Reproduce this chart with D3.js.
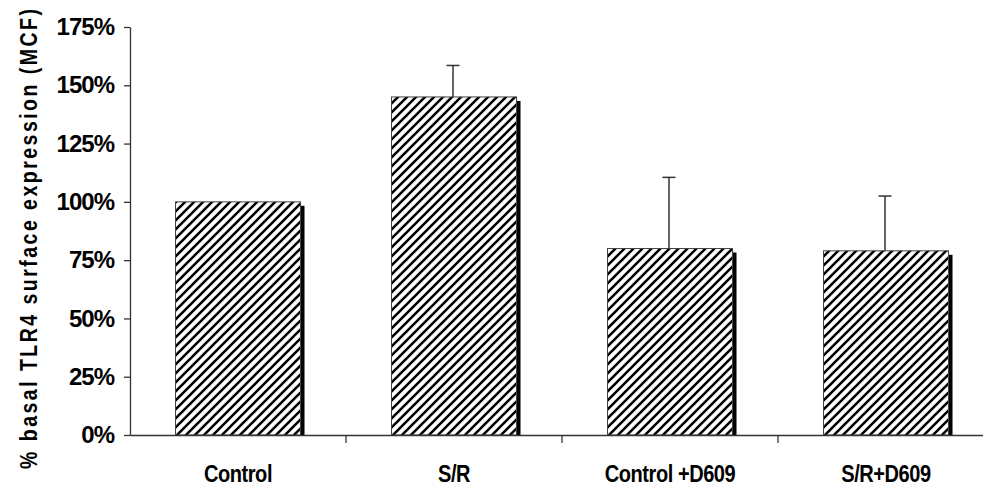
<!DOCTYPE html>
<html><head><meta charset="utf-8">
<script src="https://cdn.jsdelivr.net/npm/d3@7"></script>
<style>body{margin:0;background:#fff}svg{display:block}</style>
</head><body>
<svg id="c" width="983" height="493"></svg>
<script>
const categories = ["Control", "S/R", "Control +D609", "S/R+D609"];
const values = [100, 145, 80, 79];
const errors = [0, 13.5, 30.5, 23.5];
const yTicks = [0, 25, 50, 75, 100, 125, 150, 175];
const yTitle = "% basal TLR4 surface expression (MCF)";

const svg = d3.select("#c");
const m = {left:130, top:27, bottom:435, right:994};
const x = d3.scaleBand().domain(categories).range([m.left, m.right]).paddingInner(0).paddingOuter(0);
const y = d3.scaleLinear().domain([0,175]).range([m.bottom, m.top]);

const defs = svg.append("defs");
const pat = defs.append("pattern").attr("id","hatch").attr("patternUnits","userSpaceOnUse")
  .attr("width",9).attr("height",9);
pat.append("rect").attr("width",9).attr("height",9).attr("fill","#fff");
pat.append("path").attr("d","M-1,10 L10,-1 M-4,4 L4,-4 M5,13 L13,5").attr("stroke","#000").attr("stroke-width",2.6);

const bw = 125;
const bx = d => x(d) + (x.bandwidth()-bw)/2;

// shadows
svg.append("g").selectAll("rect").data(categories).join("rect")
  .attr("x", d => bx(d) + 4).attr("y", (d,i) => y(values[i]) + 4)
  .attr("width", bw).attr("height", (d,i) => m.bottom - y(values[i]) - 4)
  .attr("fill", "#000");
// bars
svg.append("g").selectAll("rect").data(categories).join("rect")
  .attr("x", d => bx(d)).attr("y", (d,i) => y(values[i]))
  .attr("width", bw).attr("height", (d,i) => m.bottom - y(values[i]))
  .attr("fill", "url(#hatch)").attr("stroke", "#444").attr("stroke-width", 1);

// error bars
const eg = svg.append("g").attr("stroke","#333").attr("stroke-width",1.5);
categories.forEach((c,i) => {
  if (!errors[i]) return;
  const cx = x(c) + x.bandwidth()/2 - 1;
  eg.append("line").attr("x1",cx).attr("x2",cx).attr("y1",y(values[i])).attr("y2",y(values[i]+errors[i]));
  eg.append("line").attr("x1",cx-6.5).attr("x2",cx+6.5).attr("y1",y(values[i]+errors[i])).attr("y2",y(values[i]+errors[i]));
});

// y axis
const ya = svg.append("g").attr("transform",`translate(${m.left},0)`)
  .call(d3.axisLeft(y).tickValues(yTicks).tickSize(6).tickSizeOuter(0).tickFormat(d => d + "%"));
ya.select(".domain").attr("stroke","#333").attr("stroke-width",1.3);
ya.selectAll(".tick line").attr("stroke","#333").attr("stroke-width",1.3);
ya.selectAll(".tick text").attr("x",-16).attr("font-family","Liberation Sans, Arial, sans-serif")
  .attr("font-weight","bold").attr("font-size",24).attr("letter-spacing",-1).attr("fill","#000");

// x axis
const xa = svg.append("g").attr("transform",`translate(0,${m.bottom})`)
  .call(d3.axisBottom(x).tickSize(0).tickSizeOuter(0));
xa.select(".domain").attr("stroke","#333").attr("stroke-width",1.3);
xa.selectAll(".tick text").remove();
// category separators
xa.selectAll(".sep").data(categories.slice(1)).join("line").attr("class","sep")
  .attr("x1", d => x(d)).attr("x2", d => x(d)).attr("y1",0).attr("y2",8).attr("stroke","#333").attr("stroke-width",1.3);
xa.selectAll(".lab").data(categories).join("text").attr("class","lab")
  .attr("transform", d => `translate(${x(d)+x.bandwidth()/2},47) scale(0.87,1)`)
  .attr("text-anchor","middle").attr("font-family","Liberation Sans, Arial, sans-serif")
  .attr("font-weight","bold").attr("font-size",23).attr("letter-spacing",-0.5).attr("fill","#000")
  .text(d => d);

// y title
svg.append("text").attr("transform","translate(37,239) rotate(-90) scale(0.85,1)")
  .attr("text-anchor","middle").attr("font-family","Liberation Sans, Arial, sans-serif")
  .attr("font-weight","bold").attr("font-size",23).attr("fill","#000")
  .attr("textLength",541).attr("lengthAdjust","spacing")
  .text(yTitle);
</script>
</body></html>
